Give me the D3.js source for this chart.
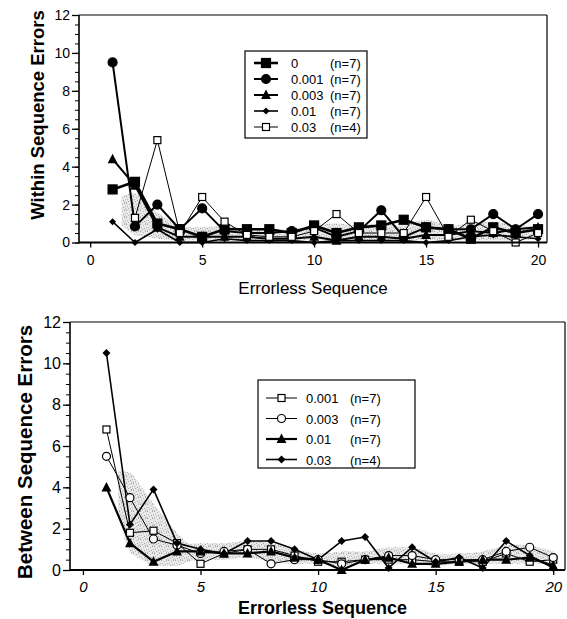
<!DOCTYPE html>
<html>
<head>
<meta charset="utf-8">
<script src="https://cdn.jsdelivr.net/npm/d3@7"></script>
<style>
  html, body { margin: 0; padding: 0; background: #fff; }
  svg { display: block; font-family: "Liberation Sans", Arial, Helvetica, sans-serif; }
</style>
</head>
<body>
<svg id="chart" width="567" height="619"></svg>
<script>
// Errorless sequence index shared by both panels
const sequence = [1,2,3,4,5,6,7,8,9,10,11,12,13,14,15,16,17,18,19,20];
const yTicks = [0,2,4,6,8,10,12];
const xTicks = [0,5,10,15,20];

// Within-sequence errors, one array per dose group
const withinDose0    = [2.8, 3.2, 1.0, 0.7, 0.3, 0.7, 0.7, 0.7, 0.5, 0.9, 0.5, 0.8, 0.9, 1.2, 0.8, 0.7, 0.2, 0.8, 0.5, 0.7];
const withinDose001  = [9.5, 0.85, 2.0, 0.7, 1.8, 0.6, 0.5, 0.5, 0.6, 0.8, 0.3, 0.6, 1.7, 0.3, 0.8, 0.7, 0.7, 1.5, 0.7, 1.5];
const withinDose003  = [4.4, 3.0, 0.8, 0.3, 0.3, 0.3, 0.3, 0.2, 0.2, 0.3, 0.1, 0.3, 0.3, 0.2, 0.4, 0.4, 0.6, 0.5, 0.7, 0.8];
const withinDose01   = [1.1, 0.0, 0.7, 0.0, 0.0, 0.2, 0.1, 0.1, 0.1, 0.0, 0.1, 0.1, 0.1, 0.1, 0.0, 0.1, 0.3, 0.4, 0.3, 0.2];
const withinDose03   = [null, 1.3, 5.4, 0.5, 2.4, 1.1, 0.4, 0.3, 0.3, 0.6, 1.5, 0.5, 0.5, 0.5, 2.4, 0.3, 1.2, 0.6, 0.0, 0.5];

// Between-sequence errors
const betweenDose001 = [6.8, 1.8, 1.9, 1.3, 0.3, 0.8, 1.0, 1.0, 0.7, 0.4, 0.4, 0.5, 0.5, 0.5, 0.4, 0.4, 0.4, 0.8, 0.4, 0.5];
const betweenDose003 = [5.5, 3.5, 1.5, 1.2, 0.8, 0.9, 1.0, 0.3, 0.5, 0.5, 0.3, 0.5, 0.7, 0.7, 0.5, 0.5, 0.5, 0.9, 1.1, 0.6];
const betweenDose01  = [4.0, 1.3, 0.4, 0.9, 0.9, 0.8, 0.8, 0.9, 0.6, 0.5, 0.0, 0.5, 0.6, 0.3, 0.3, 0.4, 0.5, 0.5, 0.6, 0.2];
const betweenDose03  = [10.5, 2.2, 3.9, 1.3, 1.0, 0.8, 1.4, 1.4, 1.0, 0.5, 1.4, 1.6, 0.1, 1.1, 0.4, 0.6, 0.1, 1.4, 0.7, 0.1];

// Shaded spread behind the curves (x, low, high)
const withinBandX    = [1.4, 2, 2.5, 3, 4, 5, 6, 7, 8, 9, 10, 11, 12, 13, 14, 15, 16, 17, 18, 19, 20];
const withinBandLow  = [0.9, 0.4, 0.3, 0.2, 0.1, 0.1, 0.1, 0.1, 0.1, 0.1, 0.1, 0.1, 0.1, 0.1, 0.1, 0.1, 0.1, 0.1, 0.1, 0.1, 0.2];
const withinBandHigh = [2.4, 2.6, 2.0, 1.6, 0.9, 0.8, 0.9, 0.7, 0.7, 0.7, 0.9, 1.0, 0.9, 1.0, 0.9, 1.2, 0.9, 1.0, 1.1, 0.9, 0.9];

const betweenBandX    = [1.5, 2, 2.5, 3, 3.5, 4, 4.5, 5, 6, 7, 8, 9, 10, 11, 12, 13, 14, 15, 16, 17, 18, 19, 20];
const betweenBandLow  = [2.8, 0.9, 0.5, 0.2, 0.2, 0.2, 0.4, 0.5, 0.5, 0.6, 0.4, 0.3, 0.3, 0.2, 0.3, 0.3, 0.3, 0.2, 0.3, 0.3, 0.3, 0.3, 0.3];
const betweenBandHigh = [4.8, 4.7, 4.0, 3.2, 2.5, 1.8, 1.3, 1.3, 1.3, 1.4, 1.3, 1.0, 0.8, 0.9, 0.9, 1.1, 1.1, 0.8, 0.8, 0.9, 1.2, 1.2, 0.9];

const withinLabels  = ["0", "0.001", "0.003", "0.01", "0.03"];
const withinCounts  = ["(n=7)", "(n=7)", "(n=7)", "(n=7)", "(n=4)"];
const betweenLabels = ["0.001", "0.003", "0.01", "0.03"];
const betweenCounts = ["(n=7)", "(n=7)", "(n=7)", "(n=4)"];

const svg = d3.select("#chart");

// grainy stipple used for the shaded spread
const defs = svg.append("defs");
const pat = defs.append("pattern").attr("id", "stipple")
  .attr("width", 7).attr("height", 7).attr("patternUnits", "userSpaceOnUse");
pat.append("rect").attr("width", 7).attr("height", 7).attr("fill", "#e2e2e2");
const dots = [[0,0,"#8c8c8c"],[3,1,"#a8a8a8"],[5,0,"#9a9a9a"],[1,3,"#a0a0a0"],[4,4,"#888"],
              [6,3,"#b0b0b0"],[2,5,"#999"],[5,6,"#a4a4a4"],[0,6,"#b4b4b4"],[6,5,"#c0c0c0"]];
dots.forEach(([dx, dy, c]) =>
  pat.append("rect").attr("x", dx).attr("y", dy).attr("width", 1).attr("height", 1).attr("fill", c));

// marker drawing helpers
function drawMarker(g, type, cx, cy, s) {
  if (type === "square" || type === "osquare") {
    g.append("rect").attr("x", cx - s/2).attr("y", cy - s/2).attr("width", s).attr("height", s)
      .attr("fill", type === "square" ? "#000" : "#fff").attr("stroke", "#000").attr("stroke-width", 1.2);
  } else if (type === "circle" || type === "ocircle") {
    g.append("circle").attr("cx", cx).attr("cy", cy).attr("r", s/2)
      .attr("fill", type === "circle" ? "#000" : "#fff").attr("stroke", "#000").attr("stroke-width", 1.2);
  } else if (type === "triangle") {
    g.append("path").attr("d", `M${cx},${cy - s*0.6}L${cx + s*0.55},${cy + s*0.45}L${cx - s*0.55},${cy + s*0.45}Z`)
      .attr("fill", "#000");
  } else if (type === "diamond") {
    g.append("path").attr("d", `M${cx},${cy - s/2}L${cx + s/2},${cy}L${cx},${cy + s/2}L${cx - s/2},${cy}Z`)
      .attr("fill", "#000");
  }
}

function panel(cfg) {
  const x = d3.scaleLinear().domain(cfg.xDomain).range([cfg.left, cfg.right]);
  const y = d3.scaleLinear().domain([0, 12]).range([cfg.bottom, cfg.top]);
  const g = svg.append("g");

  // shaded spread
  const band = cfg.bandX.map((v, i) => ({x: v, lo: cfg.bandLow[i], hi: cfg.bandHigh[i]}));
  g.append("path").datum(band)
    .attr("d", d3.area().curve(d3.curveCatmullRom).x(d => x(d.x)).y0(d => y(d.lo)).y1(d => y(d.hi)))
    .attr("fill", "url(#stipple)").attr("opacity", 0.8);

  // frame: top and right sides
  g.append("line").attr("x1", cfg.left).attr("x2", cfg.right).attr("y1", cfg.top).attr("y2", cfg.top)
    .attr("stroke", "#000").attr("stroke-width", 1.2);
  g.append("line").attr("x1", cfg.right).attr("x2", cfg.right).attr("y1", cfg.top).attr("y2", cfg.bottom)
    .attr("stroke", "#000").attr("stroke-width", 1.2);

  // series
  cfg.series.forEach(s => {
    const pts = sequence.map((q, i) => ({x: q, v: s.values[i]}));
    g.append("path").datum(pts)
      .attr("d", d3.line().defined(d => d.v != null).x(d => x(d.x)).y(d => y(d.v)))
      .attr("fill", "none").attr("stroke", "#000").attr("stroke-width", s.width)
      .attr("stroke-linejoin", "round");
  });
  cfg.series.forEach(s => {
    sequence.forEach((q, i) => {
      if (s.values[i] != null) drawMarker(g, s.marker, x(q), y(s.values[i]), s.size);
    });
  });

  // y axis with minor ticks every 0.5
  const yAxis = g.append("g").attr("transform", `translate(${cfg.left},0)`)
    .call(d3.axisLeft(y).tickValues(d3.range(0, 12.01, 0.5)).tickSize(4).tickFormat(""));
  yAxis.select(".domain").remove();
  yAxis.selectAll(".tick line").attr("stroke-width", 1);
  const yMajor = g.append("g").attr("transform", `translate(${cfg.left},0)`)
    .call(d3.axisLeft(y).tickValues(yTicks).tickSize(7).tickPadding(2));
  yMajor.select(".domain").remove();
  yMajor.selectAll(".tick line").attr("stroke-width", 1.3);
  yMajor.selectAll("text").attr("font-size", cfg.tickFont).attr("fill", "#000")
    .attr("font-family", "'Liberation Sans', Arial, sans-serif");
  g.append("line").attr("x1", cfg.left).attr("x2", cfg.left).attr("y1", cfg.top).attr("y2", cfg.bottom + 1)
    .attr("stroke", "#000").attr("stroke-width", 1.6);

  // x axis
  const xAxis = g.append("g").attr("transform", `translate(0,${cfg.bottom})`)
    .call(d3.axisBottom(x).tickValues(xTicks).tickSize(5).tickPadding(cfg.xPad));
  xAxis.select(".domain").remove();
  xAxis.selectAll(".tick line").attr("stroke-width", 1.3);
  xAxis.selectAll("text").attr("font-size", cfg.xTickFont).attr("fill", "#000")
    .attr("font-style", cfg.italicX ? "italic" : "normal")
    .attr("font-family", "'Liberation Sans', Arial, sans-serif");
  g.append("line").attr("x1", cfg.left).attr("x2", cfg.right).attr("y1", cfg.bottom).attr("y2", cfg.bottom)
    .attr("stroke", "#000").attr("stroke-width", 2);

  // axis titles
  g.append("text").attr("x", (cfg.left + cfg.right) / 2 + cfg.xTitleShift).attr("y", cfg.xTitleY)
    .attr("text-anchor", "middle").attr("font-size", cfg.xTitleSize)
    .attr("font-weight", cfg.xTitleBold ? "bold" : "normal").text("Errorless Sequence");
  g.append("text").attr("transform", `translate(${cfg.yTitleX},${cfg.yTitleMid}) rotate(-90)`)
    .attr("text-anchor", "middle").attr("font-size", cfg.yTitleSize).attr("font-weight", "bold")
    .text(cfg.yTitle);

  // legend
  const L = cfg.legend;
  const lg = g.append("g");
  lg.append("rect").attr("x", L.x).attr("y", L.y).attr("width", L.w).attr("height", L.h)
    .attr("fill", "#fff").attr("stroke", "#000").attr("stroke-width", 1.2);
  cfg.series.forEach((s, i) => {
    const cy = L.y + L.first + i * L.step;
    lg.append("line").attr("x1", L.x + L.lineStart).attr("x2", L.x + L.lineStart + L.lineLen)
      .attr("y1", cy).attr("y2", cy).attr("stroke", "#000").attr("stroke-width", s.width);
    drawMarker(lg, s.marker, L.x + L.lineStart + L.lineLen / 2, cy, s.size);
    lg.append("text").attr("x", L.x + L.textX).attr("y", cy + 5).attr("font-size", L.font).text(cfg.labels[i]);
    lg.append("text").attr("x", L.x + L.countX).attr("y", cy + 5).attr("font-size", L.font).text(cfg.counts[i]);
  });
}

panel({
  xDomain: [-0.5, 20.4], left: 79, right: 547, top: 15, bottom: 242.5,
  tickFont: 14, xTickFont: 14, xPad: 8, italicX: false,
  xTitleY: 294, xTitleSize: 17, xTitleBold: false, xTitleShift: 0,
  yTitle: "Within Sequence Errors", yTitleX: 44, yTitleMid: 115, yTitleSize: 18.5,
  bandX: withinBandX, bandLow: withinBandLow, bandHigh: withinBandHigh,
  labels: withinLabels, counts: withinCounts,
  series: [
    {values: withinDose0,   marker: "square",   size: 9, width: 2.6},
    {values: withinDose001, marker: "circle",   size: 9, width: 2},
    {values: withinDose003, marker: "triangle", size: 9, width: 2},
    {values: withinDose01,  marker: "diamond",  size: 7, width: 1.6},
    {values: withinDose03,  marker: "osquare",  size: 7, width: 1}
  ],
  legend: {x: 245, y: 51, w: 122, h: 87, first: 12, step: 16, lineStart: 9, lineLen: 24,
           textX: 46, countX: 85, font: 13}
});

panel({
  xDomain: [-0.55, 20.5], left: 70, right: 565, top: 322, bottom: 570,
  tickFont: 16, xTickFont: 15, xPad: 6, italicX: true,
  xTitleY: 614, xTitleSize: 18, xTitleBold: true, xTitleShift: 5,
  yTitle: "Between Sequence Errors", yTitleX: 32, yTitleMid: 452, yTitleSize: 20.5,
  bandX: betweenBandX, bandLow: betweenBandLow, bandHigh: betweenBandHigh,
  labels: betweenLabels, counts: betweenCounts,
  series: [
    {values: betweenDose001, marker: "osquare",  size: 7, width: 1},
    {values: betweenDose003, marker: "ocircle",  size: 8, width: 1},
    {values: betweenDose01,  marker: "triangle", size: 9, width: 2.2},
    {values: betweenDose03,  marker: "diamond",  size: 8, width: 1.6}
  ],
  legend: {x: 258, y: 380, w: 157, h: 88, first: 18, step: 20.5, lineStart: 8, lineLen: 31,
           textX: 48, countX: 92, font: 13}
});
</script>
</body>
</html>
